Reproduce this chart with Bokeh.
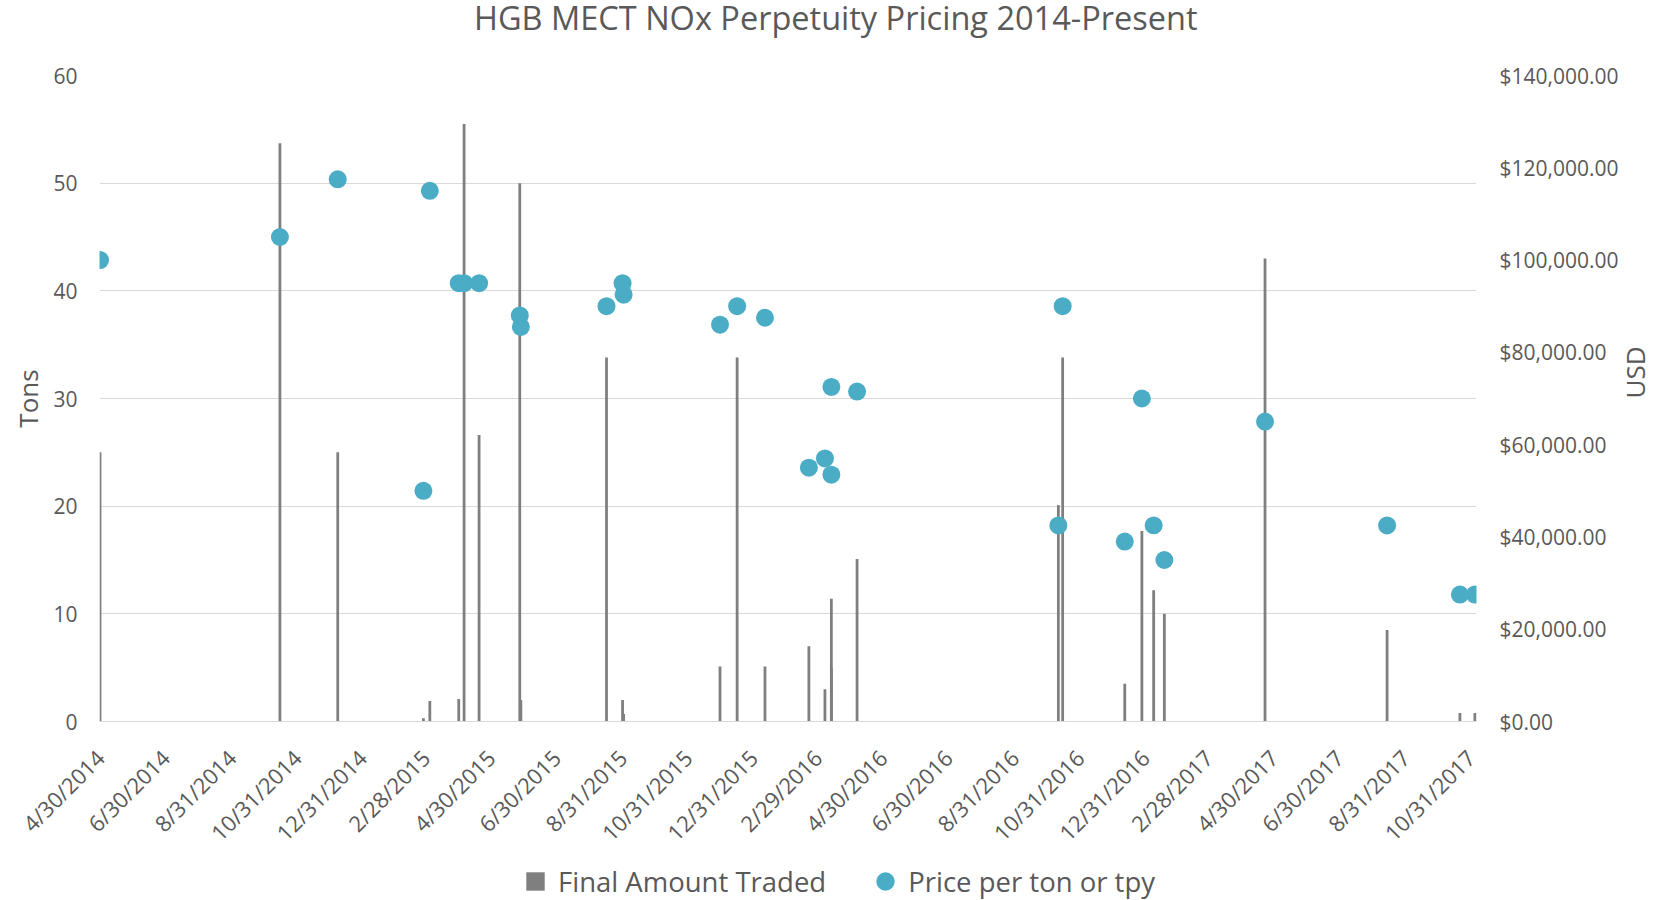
import math
from datetime import datetime

from bokeh.plotting import figure
from bokeh.layouts import column
from bokeh.models import (Range1d, LinearAxis, FixedTicker, NumeralTickFormatter,
                          CustomJSTickFormatter, Legend, LegendItem,
                          ColumnDataSource)
from bokeh.embed import file_html
from bokeh.resources import INLINE

# ---------------- data ----------------
trade_dates = ["2014-04-30", "2014-10-15", "2014-12-08", "2015-02-26", "2015-03-04",
               "2015-03-31", "2015-04-05", "2015-04-19", "2015-05-27", "2015-05-28",
               "2015-08-16", "2015-08-31", "2015-09-01", "2015-11-30", "2015-12-16",
               "2016-01-11", "2016-02-21", "2016-03-07", "2016-03-13", "2016-03-13",
               "2016-04-06", "2016-10-11", "2016-10-15", "2016-12-12", "2016-12-28",
               "2017-01-08", "2017-01-18", "2017-04-22", "2017-08-14", "2017-10-21",
               "2017-11-04"]
final_amount_tons = [25.0, 53.7, 25.0, 0.3, 1.9,
                     2.1, 55.5, 26.6, 50.0, 2.0,
                     33.8, 2.0, 0.7, 5.1, 33.8,
                     5.1, 7.0, 3.0, 11.4, 5.0,
                     15.1, 20.1, 33.8, 3.5, 17.7,
                     12.2, 10.0, 43.0, 8.5, 0.8,
                     0.8]
price_per_ton_usd = [100000, 105000, 117500, 50000, 115000,
                     95000, 95000, 95000, 88000, 85500,
                     90000, 95000, 92500, 86000, 90000,
                     87500, 55000, 57000, 72500, 53500,
                     71500, 42500, 90000, 39000, 70000,
                     42500, 35000, 65000, 42500, 27500,
                     27500]
x_tick_labels = ["4/30/2014", "6/30/2014", "8/31/2014", "10/31/2014", "12/31/2014",
                 "2/28/2015", "4/30/2015", "6/30/2015", "8/31/2015", "10/31/2015",
                 "12/31/2015", "2/29/2016", "4/30/2016", "6/30/2016", "8/31/2016",
                 "10/31/2016", "12/31/2016", "2/28/2017", "4/30/2017", "6/30/2017",
                 "8/31/2017", "10/31/2017"]
tons_ticks = [0, 10, 20, 30, 40, 50, 60]
usd_ticks = [0, 20000, 40000, 60000, 80000, 100000, 120000, 140000]
series_names = ["Final Amount Traded", "Price per ton or tpy"]
title_text = "HGB MECT NOx Perpetuity Pricing 2014-Present"

# ---------------- styling ----------------
FONT = "Open Sans"
TXT = "#595959"
BAR = "#7f7f7f"
DOT = "#4bacc6"
GRID = "#d9d9d9"
DAY_MS = 86400000
W = 1673
TITLE_H = 40
LEG_H = 40
MAIN_H = 900 - TITLE_H - LEG_H

EPOCH = datetime(1970, 1, 1)
def to_ms(d):
    return (d - EPOCH).total_seconds() * 1000.0

dates = [datetime.strptime(s, "%Y-%m-%d") for s in trade_dates]
tick_ms = [to_ms(datetime.strptime(s, "%m/%d/%Y")) for s in x_tick_labels]

src = ColumnDataSource(data=dict(date=dates, tons=final_amount_tons,
                                 price=price_per_ton_usd))


def strip(height):
    """Axis-less strip whose frame is aligned with the chart frame."""
    f = figure(width=W, height=height, output_backend="svg", toolbar_location=None,
               title=None, x_range=Range1d(0, 1), y_range=Range1d(0, 1),
               x_axis_location=None, y_axis_location=None, min_border=0)
    f.grid.visible = False
    f.outline_line_color = None
    return f


# ---------------- title strip ----------------
tf = strip(TITLE_H)
title_anchor = tf.scatter(x="date", y="price", source=src, size=0,
                          fill_alpha=0, line_alpha=0)
tf.add_layout(Legend(items=[LegendItem(label=title_text, renderers=[title_anchor],
                                       index=0)],
                     orientation="horizontal", location=(374, 0),
                     glyph_width=1, glyph_height=1, label_standoff=0,
                     padding=0, margin=0, border_line_color=None,
                     background_fill_alpha=0,
                     label_text_font=FONT, label_text_font_size="32.5px",
                     label_text_color=TXT), "center")

# ---------------- main chart ----------------
p = figure(width=W, height=MAIN_H, output_backend="svg", toolbar_location=None,
           title=None, x_axis_type="datetime",
           x_range=Range1d(datetime(2014, 4, 29, 12), datetime(2017, 11, 5, 12)),
           y_range=Range1d(0, 60),
           min_border_left=99, min_border_right=197,
           min_border_top=75 - TITLE_H, min_border_bottom=MAIN_H - (721 - TITLE_H))
p.outline_line_color = None

p.xgrid.visible = False
p.ygrid.grid_line_color = GRID
p.ygrid.grid_line_width = 1

xa = p.xaxis[0]
xa.ticker = FixedTicker(ticks=tick_ms)
xa.formatter = CustomJSTickFormatter(code="""
const d = new Date(tick);
return (d.getUTCMonth() + 1) + "/" + d.getUTCDate() + "/" + d.getUTCFullYear();
""")
xa.major_label_orientation = math.pi / 4
xa.major_label_text_font = FONT
xa.major_label_text_font_size = "22px"
xa.major_label_text_color = TXT
xa.major_label_standoff = 32
xa.major_tick_out = 0
xa.major_tick_line_color = None
xa.minor_tick_line_color = None
xa.axis_line_color = GRID

ya = p.yaxis[0]
ya.ticker = FixedTicker(ticks=tons_ticks)
ya.axis_label = "Tons"
ya.axis_label_text_font = FONT
ya.axis_label_text_font_size = "26px"
ya.axis_label_text_font_style = "normal"
ya.axis_label_text_color = TXT
ya.axis_label_standoff = 4
ya.major_label_text_font = FONT
ya.major_label_text_font_size = "21px"
ya.major_label_text_color = TXT
ya.major_label_standoff = 22
ya.major_tick_out = 0
ya.major_tick_line_color = None
ya.minor_tick_line_color = None
ya.axis_line_color = None

p.extra_y_ranges = {"usd": Range1d(0, 140000)}
ra = LinearAxis(y_range_name="usd", ticker=FixedTicker(ticks=usd_ticks),
                formatter=NumeralTickFormatter(format="$0,0.00"), axis_label="USD")
ra.axis_label_text_font = FONT
ra.axis_label_text_font_size = "26px"
ra.axis_label_text_font_style = "normal"
ra.axis_label_text_color = TXT
ra.axis_label_standoff = 13
ra.major_label_text_font = FONT
ra.major_label_text_font_size = "21px"
ra.major_label_text_color = TXT
ra.major_label_standoff = 23
ra.major_tick_out = 0
ra.major_tick_line_color = None
ra.minor_tick_line_color = None
ra.axis_line_color = None
if "axis_label_orientation" in ra.properties():
    ra.axis_label_orientation = math.pi / 2
p.add_layout(ra, "right")

# thin columns and price dots
p.vbar(x="date", top="tons", bottom=0, width=2.6 * DAY_MS, source=src,
       fill_color=BAR, line_color=None)
p.ellipse(x="date", y="price", width=18, height=18,
          width_units="screen", height_units="screen", source=src,
          y_range_name="usd", fill_color=DOT, line_color=None)

# ---------------- legend strip under the chart ----------------
# swatch renderers use the real data, which lies outside this strip's ranges,
# so only their legend entries are visible
lf = strip(LEG_H)
sw_bar = lf.scatter(x="date", y="tons", source=src, marker="square",
                    fill_color=BAR, line_color=None)
sw_dot = lf.scatter(x="date", y="price", source=src, marker="circle",
                    fill_color=DOT, line_color=None)
lf.add_layout(Legend(items=[LegendItem(label=series_names[0], renderers=[sw_bar], index=0),
                            LegendItem(label=series_names[1], renderers=[sw_dot], index=0)],
                     orientation="horizontal", location=(413, -4),
                     glyph_width=46, glyph_height=46, label_standoff=0, spacing=36,
                     padding=0, margin=0, border_line_color=None,
                     background_fill_alpha=0,
                     label_text_font=FONT, label_text_font_size="27.5px",
                     label_text_color=TXT), "center")

layout = column(tf, p, lf)
open("out.html", "w").write(file_html(layout, INLINE))
